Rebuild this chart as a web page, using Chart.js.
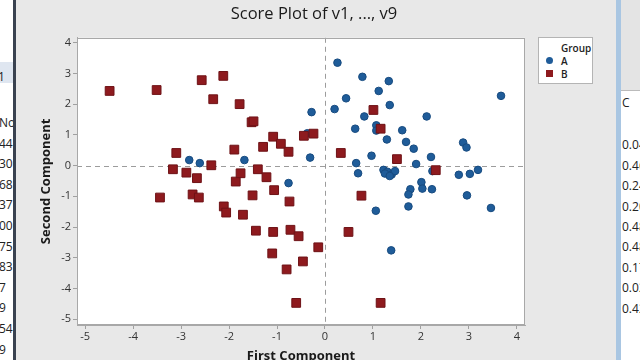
<!DOCTYPE html>
<html>
<head>
<meta charset="utf-8">
<script src="https://cdn.jsdelivr.net/npm/chart.js@4"></script>
<style>
  html, body { margin: 0; padding: 0; }
  body { width: 640px; height: 360px; overflow: hidden; position: relative; background: #e8e8e8; font-family: 'Open Sans', sans-serif; }
  .side { position: absolute; top: 0; height: 360px; background: #fff; overflow: hidden; font-size: 12px; color: #222; }
  .side div { position: absolute; white-space: nowrap; }
  #leftSide { left: 0; width: 13px; border-right: 3px solid #3a4250; }
  #rightSide { left: 616px; width: 24px; border-left: 5px solid #a9c6e2; }
  #win { position: absolute; left: 20px; top: 0; width: 588px; height: 360px; overflow: hidden; }
  #legend { position: absolute; left: 538px; top: 37px; width: 53px; height: 45px; background: #fff; border: 1px solid #b4b4b4; font-size: 10px; color: #222; }
  #legend .t { position: absolute; left: 22px; top: 3px; font-weight: 600; }
  #legend .r { position: absolute; left: 22px; font-weight: 600; }
  #legend .m { position: absolute; left: 7px; width: 7px; height: 7px; }
</style>
</head>
<body>
<div id="leftSide" class="side"></div>
<div id="rightSide" class="side"></div>
<div id="win"><canvas id="scorePlot" width="588" height="364"></canvas></div>
<div id="legend">
  <div class="t">Group</div>
  <div class="m" style="top:19px;border-radius:50%;background:#1f5c99"></div><div class="r" style="top:16px">A</div>
  <div class="m" style="top:32px;background:#8e1a1e"></div><div class="r" style="top:29px">B</div>
</div>
<script>
// Group A scores (first, second component)
const groupAx = [0.26, 0.78, 1.33, 1.12, 0.44, 0.20, -0.28, 3.67, 1.35, 0.82, 2.12, 0.63, 1.07, 1.07, 1.61, 1.29, 1.69,
  1.85, 2.88, 2.95, 0.97, -0.31, 2.21, 0.65, 1.90, 0.69, 1.22, 1.30, 1.39, 1.46, 1.25, 1.35, 2.24, 2.79, 3.02, 3.19,
  2.01, 2.03, 1.78, 1.74, 2.23, 2.96, 1.74, 1.06, 3.46, 1.38, -0.37, -2.83, -2.61, -1.68, -0.76];
const groupAy = [3.35, 2.89, 2.75, 2.43, 2.19, 1.84, 1.74, 2.27, 1.97, 1.60, 1.60, 1.20, 1.31, 1.14, 1.15, 0.85, 0.77,
  0.55, 0.75, 0.59, 0.32, 0.26, 0.28, 0.08, 0.05, -0.25, -0.14, -0.20, -0.29, -0.18, -0.26, -0.34, -0.18, -0.30, -0.27, -0.14,
  -0.54, -0.75, -0.77, -0.94, -0.77, -0.97, -1.33, -1.47, -1.38, -2.76, 1.05, 0.18, 0.08, 0.18, -0.57];

// Group B scores
const groupBx = [-4.49, -3.51, -2.57, -2.12, -2.33, -1.78, -1.53, -1.49, -1.08, -0.92, -0.76, -0.44, -0.24, -1.29, -1.89,
  -3.10, -2.37, -3.17, -2.89, -2.67, -1.86, -1.76, -1.40, -1.22, -1.06, -3.44, -2.76, -2.63, -1.51, -0.74, -2.11, -2.06,
  -1.71, -1.44, -1.08, -0.72, -0.55, -0.14, -1.10, -0.46, -0.80, -0.60, 1.01, 1.16, 0.33, 1.50, 2.31, 0.76, 0.49, 1.16];
const groupBy = [2.43, 2.46, 2.78, 2.92, 2.16, 2.00, 1.41, 1.44, 0.94, 0.71, 0.45, 0.97, 1.04, 0.61, 0.52,
  0.41, 0.01, -0.12, -0.23, -0.41, -0.52, -0.25, -0.12, -0.38, -0.80, -1.04, -0.94, -1.04, -0.97, -1.17, -1.33, -1.53,
  -1.60, -2.12, -2.16, -2.09, -2.30, -2.66, -2.86, -3.12, -3.38, -4.47, 1.81, 1.20, 0.41, 0.21, -0.15, -0.98, -2.16, -4.47];

const xTicks = [-5, -4, -3, -2, -1, 0, 1, 2, 3, 4];
const yTicks = [-5, -4, -3, -2, -1, 0, 1, 2, 3, 4];

// bits of the neighbouring worksheet windows
const leftCells = ['No', '44', '30', '68', '37', '00', '75', '83', '7', '9', '54', '9'];
const rightCells = ['C', '0.04', '0.46', '0.24', '0.20', '0.48', '0.48', '0.17', '0.02', '0.42'];

const leftSide = document.getElementById('leftSide');
leftSide.innerHTML = '<div style="left:0;top:62px;width:13px;height:21px;background:#dfe6f0"></div><div style="left:-2px;top:68px">1</div>';
leftCells.forEach((t, i) => {
  const d = document.createElement('div');
  d.textContent = t;
  d.style.left = '-1px';
  d.style.top = (114 + i * 20.6) + 'px';
  leftSide.appendChild(d);
});
const rightSide = document.getElementById('rightSide');
rightSide.innerHTML = '<div style="left:0;top:0;width:24px;height:90px;background:#e4e4e4"></div><div style="left:0;top:90px;width:24px;height:1px;background:#bbb"></div>';
rightCells.forEach((t, i) => {
  const d = document.createElement('div');
  d.textContent = t;
  d.style.left = '1px';
  d.style.top = (i === 0 ? 94 : 116 + i * 20.4) + 'px';
  rightSide.appendChild(d);
});

const toPoints = (xs, ys) => xs.map((v, i) => ({ x: v, y: ys[i] }));

const framePlugin = {
  id: 'frame',
  beforeDraw(chart) {
    const { ctx, chartArea: a } = chart;
    ctx.save();
    ctx.fillStyle = '#ffffff';
    ctx.fillRect(a.left, a.top, a.width, a.height);
    ctx.restore();
  },
  beforeDatasetsDraw(chart) {
    const { ctx, chartArea: a, scales } = chart;
    const x0 = Math.round(scales.x.getPixelForValue(0)) + 0.5;
    const y0 = Math.round(scales.y.getPixelForValue(0)) + 0.5;
    ctx.save();
    ctx.strokeStyle = '#9c9c9c';
    ctx.lineWidth = 1;
    ctx.setLineDash([5, 4]);
    ctx.beginPath();
    ctx.moveTo(x0, a.top); ctx.lineTo(x0, a.bottom);
    ctx.moveTo(a.left, y0); ctx.lineTo(a.right, y0);
    ctx.stroke();
    ctx.setLineDash([]);
    ctx.strokeStyle = '#a8a8a8';
    ctx.strokeRect(Math.round(a.left) + 0.5, Math.round(a.top) + 0.5, Math.round(a.width) - 1, Math.round(a.height) - 1);
    ctx.restore();
  }
};

const tickFont = { family: 'Open Sans', size: 11 };

new Chart(document.getElementById('scorePlot').getContext('2d'), {
  type: 'scatter',
  data: {
    datasets: [{
      label: 'A',
      data: toPoints(groupAx, groupAy),
      pointStyle: 'circle',
      pointRadius: 3.8,
      backgroundColor: '#1f5c99',
      borderColor: '#174b80',
      borderWidth: 1,
      order: 2
    },
    {
      label: 'B',
      data: toPoints(groupBx, groupBy),
      pointStyle: 'rect',
      pointRadius: 6.2,
      backgroundColor: '#8e1a1e',
      borderColor: '#6e1216',
      borderWidth: 1,
      order: 1
    }]
  },
  options: {
    responsive: false,
    animation: false,
    layout: { padding: 0 },
    scales: {
      x: {
        type: 'linear',
        min: -5.17,
        max: 4.17,
        afterBuildTicks: s => { s.ticks = xTicks.map(v => ({ value: v })); },
        afterFit: s => { s.height = 39; },
        grid: { display: true, drawOnChartArea: false, drawTicks: true, tickLength: 4, color: '#a0a0a0' },
        border: { display: true, color: '#a8a8a8' },
        ticks: { color: '#333', font: tickFont, padding: 1, maxRotation: 0 },
        title: { display: true, text: 'First Component', color: '#1a1a1a', font: { family: 'Open Sans', size: 13, weight: 'bold' }, padding: { top: 0, bottom: 0 } }
      },
      y: {
        type: 'linear',
        min: -5.19,
        max: 4.16,
        afterBuildTicks: s => { s.ticks = yTicks.map(v => ({ value: v })); },
        afterFit: s => { s.width = 57; },
        grid: { display: true, drawOnChartArea: false, drawTicks: true, tickLength: 4, color: '#a0a0a0' },
        border: { display: true, color: '#a8a8a8' },
        ticks: { color: '#333', font: tickFont, padding: 2 },
        title: { display: true, text: 'Second Component', color: '#1a1a1a', font: { family: 'Open Sans', size: 13, weight: 'bold' }, padding: { top: 18, bottom: 0 } }
      },
      // empty strip on the right that leaves room for the legend box
      side: {
        type: 'linear',
        position: 'right',
        display: true,
        afterFit: s => { s.width = 83; },
        grid: { display: false },
        border: { display: false },
        ticks: { display: false }
      }
    },
    plugins: {
      legend: { display: false },
      tooltip: { enabled: false },
      title: {
        display: true,
        text: 'Score Plot of v1, ..., v9',
        color: '#1a1a1a',
        font: { family: 'Open Sans', size: 16.5, weight: 'normal' },
        padding: { top: 4, bottom: 14 }
      }
    }
  },
  plugins: [framePlugin]
});
</script>
</body>
</html>
